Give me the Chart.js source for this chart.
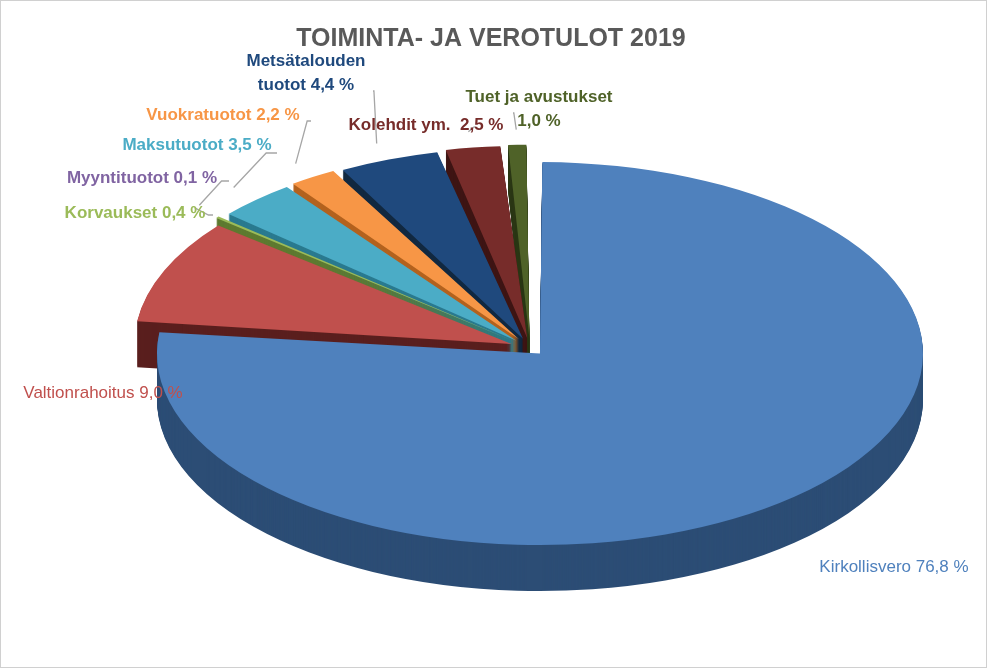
<!DOCTYPE html>
<html><head><meta charset="utf-8">
<script src="https://cdn.jsdelivr.net/npm/chart.js@4.4.0/dist/chart.umd.min.js"></script>
<style>html,body{margin:0;padding:0;background:#fff}#w{width:985px;height:666px;border:1px solid #d0d0d0}</style>
</head><body><div id="w"><canvas id="c"></canvas></div>
<script>
const categories=["Kirkollisvero","Valtionrahoitus","Korvaukset","Myyntituotot","Maksutuotot","Vuokratuotot","Metsätalouden tuotot","Kolehdit ym.","Tuet ja avustukset"];
const values=[76.8,9.0,0.4,0.1,3.5,2.2,4.4,2.5,1.0];
const colors=["#4F81BD","#C0504D","#9BBB59","#8064A2","#4BACC6","#F79646","#1F497D","#772C2A","#4F6228"];
const sideColors=["#2C4D75","#5A1F1E","#5E7A30","#4D3B66","#2A7A8F","#B3621E","#112840","#3E1514","#2C3816"];
const labelLines=[["Kirkollisvero 76,8 %"],["Valtionrahoitus 9,0 %"],["Korvaukset 0,4 %"],["Myyntituotot 0,1 %"],["Maksutuotot 3,5 %"],["Vuokratuotot 2,2 %"],["Metsätalouden","tuotot 4,4 %"],["Kolehdit ym.  2,5 %"],["Tuet ja avustukset","1,0 %"]];
const labelPos=[[893,566,'center'],[102,392,'center'],[134,212,'center'],[141,177,'center'],[196,144,'center'],[222,114,'center'],[305,60,'center'],[425,124,'center'],[538,96,'center']];
const lineFrom=[null,null,[212,214],[228,180],[276,152],[310,120],[372,90],[475,126],[512,112]];
const bold=[false,false,true,true,true,true,true,true,true];
const SX=2.0, DEPTH=46;
const plugin={id:'p3d',
beforeDatasetsDraw(chart){
  const ctx=chart.ctx, meta=chart.getDatasetMeta(0);
  const a=meta.data[0]; const cx=a.x, cy=a.y;
  ctx.save();
  ctx.translate(cx,cy);ctx.scale(SX,1);ctx.translate(-cx,-cy);
  for(let k=DEPTH;k>0;k-=1){
    meta.data.forEach((arc,i)=>{const o=arc.options.backgroundColor;
      arc.options.backgroundColor=sideColors[i];
      ctx.save();ctx.translate(0,k);arc.draw(ctx);ctx.restore();
      arc.options.backgroundColor=o;});
  }
  meta.data.forEach(arc=>arc.draw(ctx));
  ctx.restore();
  return false;
},
afterDraw(chart){
  const ctx=chart.ctx, meta=chart.getDatasetMeta(0);
  ctx.save();
  ctx.fillStyle='#595959';ctx.font='bold 25px "Liberation Sans", Arial';ctx.textAlign='center';ctx.textBaseline='middle';
  ctx.fillText('TOIMINTA- JA VEROTULOT 2019',490,38);
  meta.data.forEach((arc,i)=>{
    if(lineFrom[i]){
      const p=arc.getProps(['x','y','startAngle','endAngle','outerRadius']);
      const m=(p.startAngle+p.endAngle)/2, off=arc.options.offset||0;
      const ex=p.x+Math.cos(m)*(off+p.outerRadius*0.97)*SX, ey=p.y+Math.sin(m)*(p.outerRadius*0.97+off);
      const [lx,ly]=lineFrom[i];
      ctx.strokeStyle='#a6a6a6';ctx.lineWidth=1.3;ctx.beginPath();ctx.moveTo(lx,ly);ctx.lineTo(lx+(ex-lx)*0.25,ly);ctx.lineTo(ex,ey);ctx.stroke();
    }
    ctx.fillStyle=colors[i];ctx.font=(bold[i]?'bold ':'')+'17px "Liberation Sans", Arial';
    const [x,y,al]=labelPos[i];ctx.textAlign=al;
    labelLines[i].forEach((t,j)=>ctx.fillText(t,x,y+j*24));
  });
  ctx.restore();
}};
new Chart(document.getElementById('c'),{type:'pie',
data:{labels:categories,datasets:[{data:values,backgroundColor:colors,borderWidth:0,offset:[30,40,40,40,40,40,40,40,40]}]},
options:{responsive:true,maintainAspectRatio:false,animation:false,rotation:0,
layout:{padding:{top:143,bottom:115,left:325,right:252}},
plugins:{legend:{display:false},tooltip:{enabled:false}}},
plugins:[plugin]});
</script></body></html>
